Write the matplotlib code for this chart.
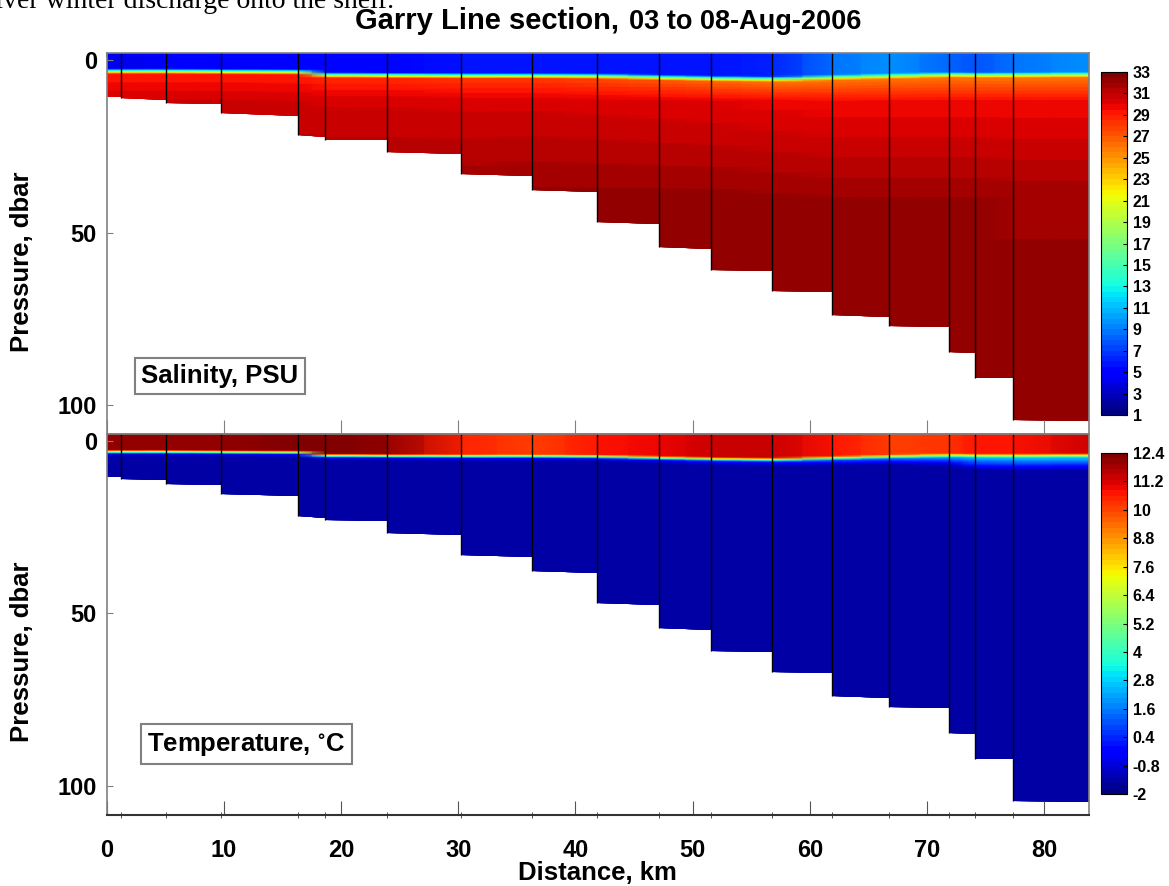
import numpy as np
import matplotlib
matplotlib.use("Agg")
import matplotlib.pyplot as plt
from matplotlib.patches import Polygon

plt.rcParams['font.family'] = ['Liberation Sans', 'DejaVu Sans']
plt.rcParams['font.weight'] = 'bold'

# ---- station geometry -------------------------------------------------------
station_km = [1.24, 5.08, 9.77, 16.34, 18.64, 23.93, 30.25, 36.31, 41.85,
              47.14, 51.58, 56.79, 61.9, 66.77, 71.9, 74.1, 77.35]
x_max = 83.8
# bottom depth (dbar) at the left / right end of each cast segment
floor_left = [10.6, 10.9, 12.4, 15.4, 21.7, 23.0, 26.7, 33.0, 37.7, 47.0,
              54.2, 60.9, 67.0, 74.0, 77.1, 84.6, 92.2, 104.3]
floor_right = [10.6, 11.4, 12.8, 16.1, 22.4, 23.2, 27.2, 33.6, 38.3, 47.5,
               54.8, 61.2, 67.2, 74.5, 77.4, 84.9, 92.2, 104.5]

# ---- profile nodes (section edges + stations) -------------------------------
node_km = [0.0] + station_km + [x_max]
mixed_depth = [3.2, 3.2, 3.2, 3.3, 3.4, 4.3, 4.4, 4.5, 4.5, 4.6, 5.0, 5.3,
               5.5, 5.0, 4.6, 4.2, 4.3, 4.3, 4.2]

sal_surface = [4.2, 4.2, 4.5, 4.8, 5.0, 5.0, 5.3, 5.5, 5.5, 5.5, 5.6, 5.8,
               6.2, 8.7, 9.5, 8.0, 7.5, 8.5, 9.5]
sal_under = [29.0, 29.0, 29.0, 29.0, 29.0, 28.5, 28.5, 28.0, 28.0, 27.5,
             27.0, 26.5, 26.0, 26.0, 26.0, 26.0, 26.0, 26.0, 26.0]
sal_12 = [30.6, 30.6, 30.6, 30.6, 30.5, 30.4, 30.4, 30.3, 30.3, 30.2, 30.1,
          30.0, 29.8, 29.6, 29.6, 29.6, 29.6, 29.6, 29.6]
sal_40 = [31.9, 31.9, 31.9, 31.9, 32.0, 32.0, 32.0, 32.1, 32.2, 32.2, 32.2,
          32.2, 32.1, 32.0, 32.0, 32.0, 32.0, 31.9, 31.9]
sal_bottom = [32.5] * 19

temp_surface = [12.1, 12.1, 12.1, 12.1, 12.2, 12.2, 12.0, 10.5, 10.1, 10.8,
                10.9, 11.4, 11.3, 10.6, 10.0, 10.3, 10.6, 10.8, 11.3]
temp_under = [-0.6, -0.6, -0.6, -0.6, -0.6, -0.6, -0.5, -0.5, -0.5, -0.5,
              -0.3, 0.0, 0.3, 1.0, 1.2, 2.0, 2.6, 2.8, 2.8]
temp_cold_depth = [4.8, 4.8, 4.8, 4.9, 5.0, 5.9, 6.0, 6.1, 6.1, 6.3, 6.8,
                   7.2, 7.5, 7.2, 7.0, 7.5, 8.5, 8.8, 8.6]
temp_deep = [-1.5] * 19

sal_ticks = list(range(1, 34, 2))
temp_ticks = [-2, -0.8, 0.4, 1.6, 2.8, 4, 5.2, 6.4, 7.6, 8.8, 10, 11.2, 12.4]
x_ticks = [0, 10, 20, 30, 40, 50, 60, 70, 80]
y_ticks = [0, 50, 100]

# ---- layout -----------------------------------------------------------------
W, H = 1169, 886
fig = plt.figure(figsize=(W / 100, H / 100), dpi=100)


def rect(l, t, r, b):
    return [l / W, 1 - b / H, (r - l) / W, (b - t) / H]


def fx(px):
    return px / W


def fy(py):
    return 1 - py / H


ax1 = fig.add_axes(rect(106.5, 53.3, 1089, 434))
ax2 = fig.add_axes(rect(106.5, 434, 1089, 815))
cax1 = fig.add_axes(rect(1101, 72, 1127, 415))
cax2 = fig.add_axes(rect(1101, 453, 1127, 794))

Y_TOP, Y_BOT = -2.0, 108.4
z = np.linspace(Y_TOP, Y_BOT, 600)


def build_field(knots_fn, values_fn):
    cols = []
    for i in range(len(node_km)):
        cols.append(np.interp(z, knots_fn(i), values_fn(i)))
    return np.array(cols).T


sal_field = build_field(
    lambda i: [0, mixed_depth[i] - 0.7, mixed_depth[i] + 0.9, 12, 40, 112],
    lambda i: [sal_surface[i], sal_surface[i], sal_under[i], sal_12[i],
               sal_40[i], sal_bottom[i]])
temp_field = build_field(
    lambda i: [0, mixed_depth[i] - 0.5, mixed_depth[i] + 0.7,
               temp_cold_depth[i], 112],
    lambda i: [temp_surface[i], temp_surface[i], temp_under[i], -1.4,
               temp_deep[i]])

edges = [0.0] + station_km + [x_max]
verts = [(0, Y_TOP - 1)]
for k in range(len(edges) - 1):
    verts.append((edges[k], floor_left[k]))
    verts.append((edges[k + 1], floor_right[k]))
verts.append((x_max, Y_TOP - 1))

cmap = plt.get_cmap('jet', 64)
grey = '#808080'

panels = [(ax1, sal_field, 1, 33, cax1, sal_ticks, 'Salinity, PSU',
           141, 376),
          (ax2, temp_field, -2, 12.4, cax2, temp_ticks,
           r'Temperature, $\mathregular{^{\circ}}$C', 147, 744)]

for ax, field, vmin, vmax, cax, cticks, label, lx, ly in panels:
    mesh = ax.pcolormesh(node_km, z, field, shading='gouraud', cmap=cmap,
                         vmin=vmin, vmax=vmax)
    clip = Polygon(verts, closed=True, transform=ax.transData,
                   facecolor='none', edgecolor='none')
    ax.add_patch(clip)
    mesh.set_clip_path(clip)
    ax.vlines(station_km, Y_TOP, floor_left[1:], colors='black', lw=1.0)
    ax.set_xlim(0, x_max)
    ax.set_ylim(Y_BOT, Y_TOP)
    ax.set_yticks(y_ticks)
    ax.set_xticks(x_ticks)
    for s in ax.spines.values():
        s.set_color(grey)
        s.set_linewidth(1.2)
    ax.tick_params(axis='y', direction='in', length=4, color=grey,
                   labelsize=17, pad=7)
    ax.tick_params(axis='x', direction='in', length=10, color=grey,
                   labelsize=17, pad=17)
    fig.text(fx(lx), fy(ly), label, fontsize=18.5, fontweight='bold',
             va='center', ha='left',
             bbox=dict(boxstyle='square,pad=0.25', facecolor='white',
                       edgecolor=grey, linewidth=1.5))

    cb = fig.colorbar(mesh, cax=cax, ticks=cticks)
    cb.outline.set_linewidth(0.8)
    cb.ax.tick_params(labelsize=11.5, length=3, direction='in', pad=4)
    cb.ax.set_yticklabels([f"{t:g}" for t in cticks], fontweight='bold')

# short marks along the top frame of the upper section
top_ax = ax1.secondary_xaxis('top')
top_ax.set_xticks(x_ticks)
top_ax.tick_params(direction='in', length=3, color=grey, labeltop=False)
top_ax.spines['top'].set_visible(False)

ax1.tick_params(axis='x', labelbottom=False)
ax2.spines['bottom'].set_color('#333333')
ax2.spines['bottom'].set_linewidth(1.5)
ax2.set_xticks(station_km, minor=True)
ax2.tick_params(axis='x', which='minor', direction='inout', length=5,
                color='#333333')
ax2.tick_params(axis='x', which='major', color='#555555')

fig.text(fx(22), fy(262), 'Pressure, dbar', rotation=90, fontsize=18.5,
         ha='center', va='center', fontweight='bold')
fig.text(fx(22), fy(652), 'Pressure, dbar', rotation=90, fontsize=18.5,
         ha='center', va='center', fontweight='bold')
fig.text(fx(597), fy(873), 'Distance, km', fontsize=18.5,
         ha='center', va='center', fontweight='bold')

# title in two sizes
t1 = fig.text(fx(355), fy(21), 'Garry Line section,', fontsize=21,
              fontweight='bold', ha='left', va='center')
fig.canvas.draw()
bb = t1.get_window_extent()
fig.text((bb.x1 + 10) / W, fy(22), '03 to 08-Aug-2006', fontsize=19.5,
         fontweight='bold', ha='left', va='center')

# running text from the page above, cut by the frame
fig.text(fx(-14), fy(8), 'river winter discharge onto the shelf.',
         fontsize=20, family=['Liberation Serif', 'DejaVu Serif'],
         fontweight='normal', ha='left', va='baseline')

fig.savefig('out.png', dpi=100)
